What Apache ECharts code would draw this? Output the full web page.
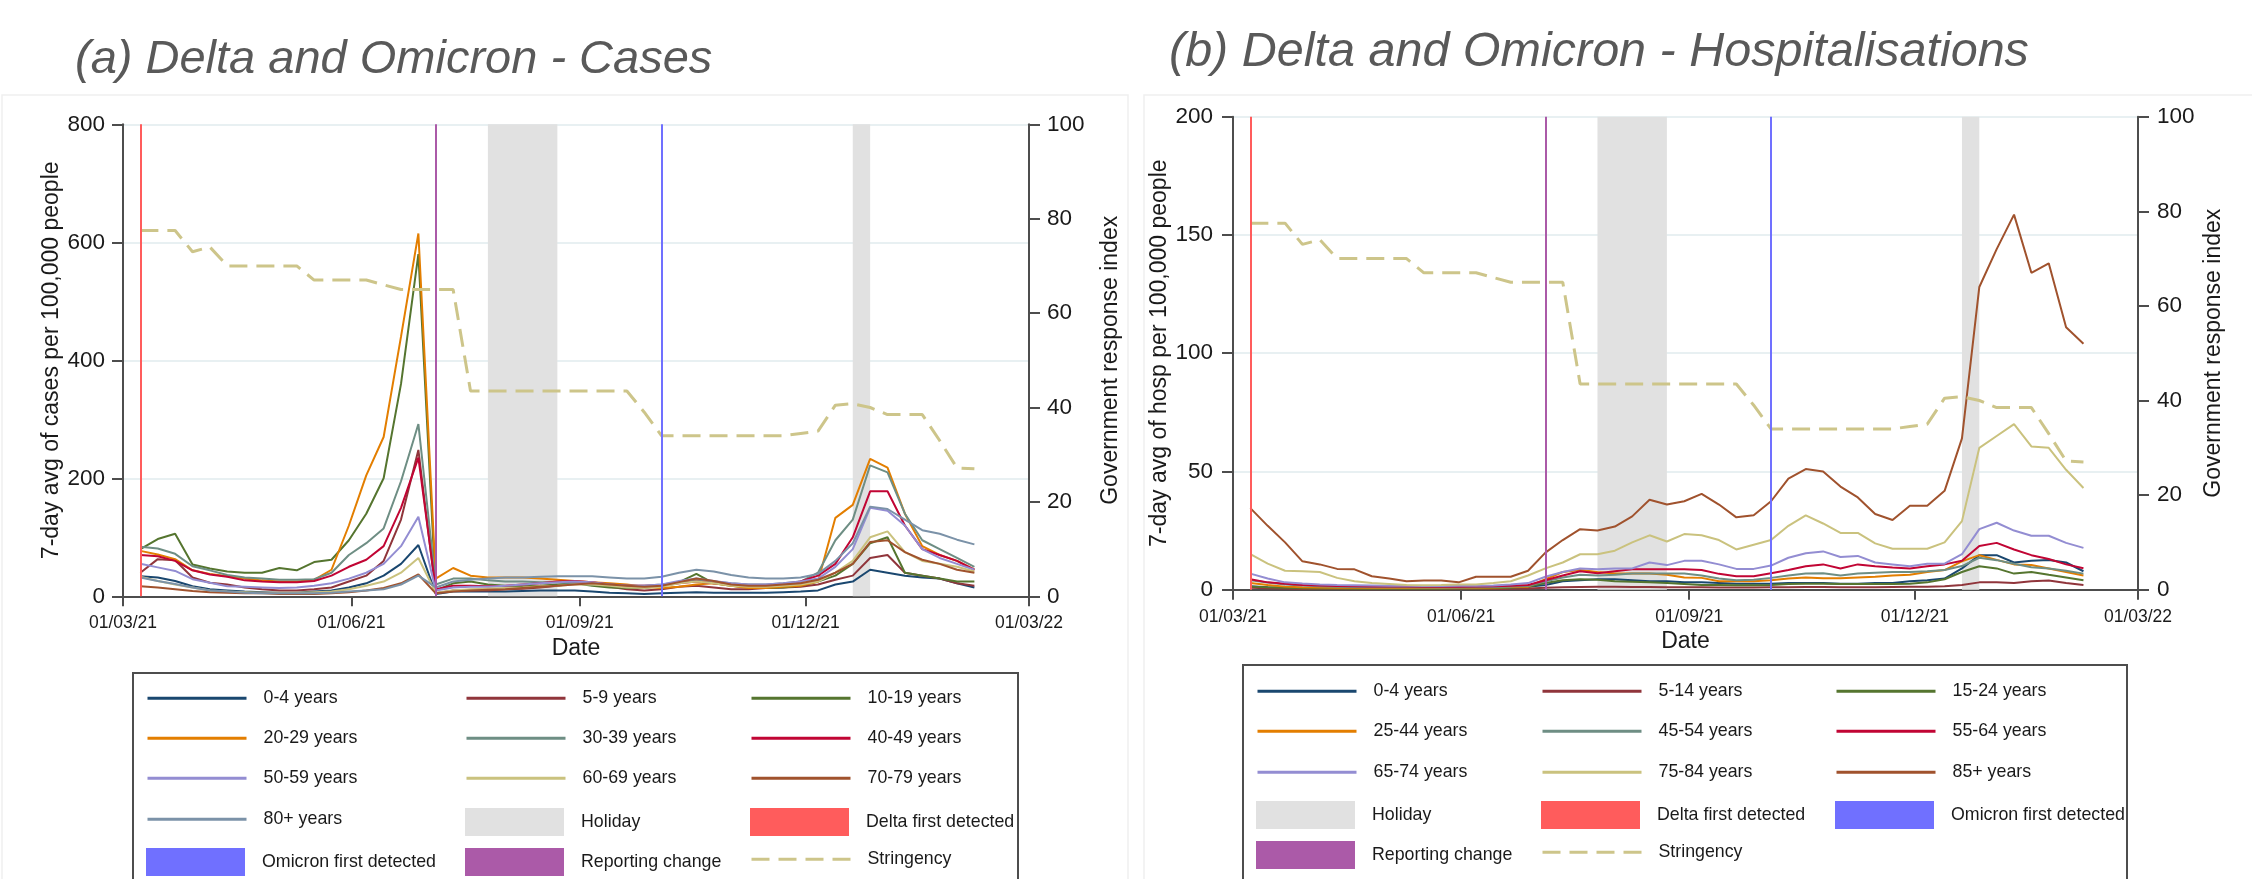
<!DOCTYPE html>
<html>
<head>
<meta charset="utf-8">
<script src="https://cdn.jsdelivr.net/npm/echarts@6/dist/echarts.min.js"></script>
<style>html,body{margin:0;padding:0;background:#fff}#c{width:2252px;height:879px}</style>
</head>
<body>
<div id="c"></div>
<script>
// ---------------- DATA ----------------
const weekDates = ['2021-03-08','2021-03-15','2021-03-22','2021-03-29','2021-04-05','2021-04-12','2021-04-19','2021-04-26',
  '2021-05-03','2021-05-10','2021-05-17','2021-05-24','2021-05-31','2021-06-07','2021-06-14','2021-06-21','2021-06-28',
  '2021-07-05','2021-07-12','2021-07-19','2021-07-26','2021-08-02','2021-08-09','2021-08-16','2021-08-23','2021-08-30',
  '2021-09-06','2021-09-13','2021-09-20','2021-09-27','2021-10-04','2021-10-11','2021-10-18','2021-10-25','2021-11-01',
  '2021-11-08','2021-11-15','2021-11-22','2021-11-29','2021-12-06','2021-12-13','2021-12-20','2021-12-27','2022-01-03',
  '2022-01-10','2022-01-17','2022-01-24','2022-01-31','2022-02-07'];

const tickDates  = ['2021-03-01','2021-06-01','2021-09-01','2021-12-01','2022-03-01'];
const tickLabels = ['01/03/21','01/06/21','01/09/21','01/12/21','01/03/22'];
const casesTicks = [0, 200, 400, 600, 800];
const hospTicks = [0, 50, 100, 150, 200];
const stringencyTicks = [0, 20, 40, 60, 80, 100];

const deltaDate = '2021-03-08';
const reportingDate = '2021-07-05';
const omicronDate = '2021-10-04';
const holidayStarts = ['2021-07-26', '2021-12-20'];
const holidayEnds   = ['2021-08-23', '2021-12-27'];

const stringency = [77.5,77.5,77.5,73,74,70,70,70,70,70,67,67,67,67,66,65,65,65,65,
  43.5,43.5,43.5,43.5,43.5,43.5,43.5,43.5,43.5,43.5,39,34,34,34,34,34,34,34,34,34.5,35,
  40.5,40.8,40,38.5,38.5,38.5,33,27.2,27];

// (a) cases per 100,000
const caseGroups = ['0-4 years','5-9 years','10-19 years','20-29 years','30-39 years','40-49 years','50-59 years','60-69 years','70-79 years','80+ years'];
const cases0_4   = [34,32,26,17,12,10,8,7,6,6,8,10,15,22,35,55,87, 4,8,8,8,8,9,10,10,10,8,6,5,4,5,6,7,6,6,6,6,7,8, 10,20,25,45,40,35,32,30,22,15];
const cases5_9   = [40,63,61,32,23,20,15,12,10,10,12,15,25,35,60,130,248, 5,10,10,10,12,13,15,18,22,20,16,12,10,12,16,18,15,12,12,14,15,16, 20,28,35,65,70,40,35,30,22,18];
const cases10_19 = [80,97,106,54,47,42,40,40,48,44,58,62,95,140,200,360,580, 10,22,25,20,18,17,18,20,22,18,15,14,14,18,24,38,22,18,15,14,15,18, 25,35,55,90,100,40,35,30,25,25];
const cases20_29 = [77,71,63,44,38,34,30,27,25,25,28,45,120,205,270,440,615, 30,48,35,32,32,32,30,28,26,24,22,20,16,14,16,20,22,18,14,14,16,18, 25,133,155,233,218,140,85,70,60,45];
const cases30_39 = [84,81,72,51,44,36,32,30,28,28,29,40,70,90,115,195,292, 20,30,30,27,25,25,24,24,22,20,20,18,18,20,24,28,25,22,20,20,22,25, 40,95,130,222,210,140,95,80,65,50];
const cases40_49 = [70,68,60,44,37,33,27,25,24,24,26,35,50,62,85,150,235, 12,18,18,17,18,20,22,25,26,24,20,18,18,18,22,25,22,20,18,18,20,25, 35,55,100,178,178,120,80,70,60,45];
const cases50_59 = [55,49,43,29,23,17,16,15,14,15,18,22,30,40,55,85,135, 10,15,16,16,18,20,22,24,25,24,20,18,18,20,26,30,26,22,20,20,22,25, 30,50,80,150,145,120,80,65,55,45];
const cases60_69 = [33,26,20,15,10,8,7,6,6,6,7,8,12,18,25,40,65, 6,10,12,13,14,15,17,18,20,20,18,15,14,16,22,25,22,18,16,16,18,20, 25,40,60,100,110,75,60,55,50,42];
const cases70_79 = [17,15,12,9,7,6,5,5,4,4,4,5,7,10,14,22,37, 5,8,10,11,12,14,16,18,20,22,20,18,16,18,24,30,26,20,18,18,20,22, 28,40,55,92,95,75,62,55,45,40];
const cases80p   = [32,26,21,15,10,8,6,5,5,5,5,6,8,10,12,20,35, 15,25,28,30,32,32,33,34,34,34,32,30,30,33,40,45,42,36,32,30,30,32, 38,60,90,152,148,130,112,106,96,88];

// (b) hospitalisations per 100,000
const hospGroups = ['0-4 years','5-14 years','15-24 years','25-44 years','45-54 years','55-64 years','65-74 years','75-84 years','85+ years'];
const hosp0_4   = [1.5,1,0.8, 0.6,0.5,0.5,0.4,0.4,0.4,0.4,0.4,0.4,0.5,0.5,0.6,0.8,1.2, 2,3.6,4,4.4,4.4,4,3.6,3.6,3.1,3.1,2.8,2.5,2.5,2.5,2.8,2.8,2.8,2.5,2.5,2.8,2.8,3.6, 4,4.7,9,14.6,14.6,11.5,12.2,12.6,11.5,7.8];
const hosp5_14  = [0.8,0.6,0.5, 0.3,0.3,0.3,0.2,0.2,0.2,0.2,0.2,0.2,0.3,0.3,0.3,0.4,0.5, 0.8,1,1.1,1.2,1.2,1.1,1.1,1,1,1,0.9,0.9,0.9,1,1,1.1,1.1,1,1,1,1.1,1.2, 1.3,1.5,2,3.1,3.1,2.8,3.6,3.9,2.8,2];
const hosp15_24 = [1.3,1,0.8, 0.6,0.5,0.5,0.4,0.4,0.4,0.4,0.4,0.4,0.5,0.5,0.6,0.8,1.2, 2.8,4,4.4,4.2,3.6,3.4,3.1,2.8,2.4,2,2,1.9,1.9,2,2.4,2.5,2.5,2.4,2.4,2.4,2.4,2.5, 3.1,4.4,7.5,9.9,9,6.8,7.5,6.3,5.2,4];
const hosp25_44 = [2.8,2,1.3, 1,0.9,0.8,0.8,0.7,0.7,0.7,0.7,0.7,0.8,0.8,0.9,1.1,1.3, 4.4,7.5,8.3,7.5,6.8,6.8,6.8,6.3,5.2,5,3.6,3.6,3.6,4,4.7,5.2,4.8,4.8,5.2,5.5,6,6.3, 7.5,8.3,12,14.6,12.6,10.7,10.4,9,7.5,6];
const hosp45_54 = [4,3,2.2, 1.8,1.5,1.2,1.1,1,1,1,0.9,0.9,0.9,1,1.1,1.3,1.6, 3.6,5.2,6.3,6,6.3,6.8,6.8,6.8,6.8,6,4.7,4,4.2,5,6,6.8,7,6,6.8,7.2,7.5,7.5, 7.8,8.3,10,13.5,12.5,11,9.5,9,8,6.8];
const hosp55_64 = [4.4,3.1,2.5, 2,1.8,1.6,1.5,1.4,1.4,1.4,1.3,1.3,1.3,1.4,1.5,1.7,2, 4,6,7.8,7,7.8,8.6,8.6,8.6,8.6,8.3,6.7,5.7,5.7,7,8.3,9.9,10.7,9,10.7,9.9,9.4,9, 9.9,10.7,12.2,18.5,19.8,17,14.6,13,10.7,9.1];
const hosp65_74 = [6.8,4.7,3.1, 2.6,2.2,2,1.9,1.8,1.7,1.7,1.6,1.6,1.7,1.7,1.8,2.2,2.8, 5.5,7.5,9,8.6,9,9,11.5,10.4,12.2,12.2,10.7,8.8,8.8,10.2,13.5,15.4,16.2,13.8,14.3,11.5,10.7,9.9, 11,11,15,25.6,28.3,25,22.8,22.8,19.8,17.7];
const hosp75_84 = [15,11,8,7.8,7.5,5,3.6,2.8,2.4,2,1.9,2,2.2,2.2,2.8,3.6,6, 9,11.5,15,15,16.5,20,23,20.4,23.5,23,21,17,19,21,27,31.4,28,24,24,19.6,17.3,17.3, 17.3,20,29,60,65,70,60.6,60,50.7,43];
const hosp85p   = [34.5,27,20,12,10.7,8.8,8.6,5.7,4.7,3.6,3.9,3.9,3.1,5.5,5.5,5.5,8, 15.7,21,25.6,25,26.7,31,38,36,37.4,40.5,36,30.6,31.5,37.4,47,51,50,43.6,39,32,29.5,35.5, 35.5,41.8,64,128,144,158.6,134,138,111,104];

// legend layout (row-major, 3 columns)
const legendA = ['0-4 years','5-9 years','10-19 years','20-29 years','30-39 years','40-49 years','50-59 years','60-69 years','70-79 years',
  '80+ years','Holiday','Delta first detected','Omicron first detected','Reporting change','Stringency'];
const legendB = ['0-4 years','5-14 years','15-24 years','25-44 years','45-54 years','55-64 years','65-74 years','75-84 years','85+ years',
  'Holiday','Delta first detected','Omicron first detected','Reporting change','Stringency'];

// ---------------- STYLE ----------------
const FONT = "'Liberation Sans', Arial, Helvetica, sans-serif";
const INK = '#1a1a1a';
const AXIS = '#4d4d4d';
const palette = ['#1a476f','#90353b','#55752f','#e37e00','#6e8e84','#c10534','#938dd2','#cac27e','#a0522d','#7b92a8'];
const STRING_COLOR = '#cdc58a';
const HOLIDAY_COLOR = '#e1e1e1';
const DELTA_COLOR = '#ff5c5c';
const OMICRON_COLOR = '#7070ff';
const REPORT_COLOR = '#ab5aa8';
const legendColsA = [146, 465, 750], legendRowsA = [701, 741, 781, 822, 862];
const legendColsB = [1256, 1541, 1835], legendRowsB = [694, 734, 775, 815, 855];

function toDay(s) {
  const p = s.split('-').map(Number);
  return (Date.UTC(p[0], p[1] - 1, p[2]) - Date.UTC(2021, 2, 1)) / 86400000;
}
const tickDays = tickDates.map(toDay);
function pairs(vals) { return weekDates.map((d, i) => [toDay(d), vals[i]]); }

function xAxisFor(gi) {
  return {
    gridIndex: gi, type: 'value', min: tickDays[0], max: tickDays[tickDays.length - 1],
    name: 'Date', nameLocation: 'middle', nameGap: 35,
    nameTextStyle: { fontSize: 23, color: INK, fontFamily: FONT },
    axisLine: { show: true, onZero: false, lineStyle: { color: AXIS, width: 2 } },
    axisTick: { show: true, length: 10, customValues: tickDays, lineStyle: { color: AXIS, width: 2 } },
    axisLabel: { show: true, customValues: tickDays, margin: 18, fontSize: 17.5, color: INK, fontFamily: FONT,
      formatter: v => { const i = tickDays.indexOf(v); return i >= 0 ? tickLabels[i] : ''; } },
    splitLine: { show: false }
  };
}
function yAxisFor(gi, pos, ticks, name, gap, grid, margin) {
  return {
    gridIndex: gi, type: 'value', position: pos, min: ticks[0], max: ticks[ticks.length - 1],
    interval: ticks[1] - ticks[0],
    name: name, nameLocation: 'middle', nameGap: gap,
    nameTextStyle: { fontSize: 23, color: INK, fontFamily: FONT },
    axisLine: { show: true, onZero: false, lineStyle: { color: AXIS, width: 2 } },
    axisTick: { show: true, length: 11, lineStyle: { color: AXIS, width: 2 } },
    axisLabel: { show: true, margin: margin, fontSize: 22.5, color: INK, fontFamily: FONT },
    splitLine: { show: grid, lineStyle: { color: '#e8f0f2', width: 2 } }
  };
}

const series = [];
function addMarkers(xi, yi) {
  series.push({
    name: 'Holiday', type: 'scatter', xAxisIndex: xi, yAxisIndex: yi, data: [], z: 1,
    itemStyle: { color: HOLIDAY_COLOR, opacity: 1 },
    markArea: { silent: true, itemStyle: { color: HOLIDAY_COLOR, opacity: 1 },
      data: holidayStarts.map((s, i) => [{ xAxis: toDay(s) }, { xAxis: toDay(holidayEnds[i]) }]) }
  });
  [['Delta first detected', DELTA_COLOR, deltaDate],
   ['Omicron first detected', OMICRON_COLOR, omicronDate],
   ['Reporting change', REPORT_COLOR, reportingDate]].forEach(m => {
    series.push({
      name: m[0], type: 'scatter', xAxisIndex: xi, yAxisIndex: yi, data: [], z: 1,
      itemStyle: { color: m[1], opacity: 1 },
      markLine: { silent: true, symbol: 'none', label: { show: false },
        lineStyle: { color: m[1], width: 2, type: 'solid', opacity: 1 },
        data: [{ xAxis: toDay(m[2]) }] }
    });
  });
}
function addLine(name, vals, color, xi, yi) {
  series.push({
    name: name, type: 'line', xAxisIndex: xi, yAxisIndex: yi, data: pairs(vals),
    symbol: 'none', showSymbol: false, color: color, z: 2,
    itemStyle: { color: color, opacity: 0 },
    lineStyle: { color: color, width: 2 }
  });
}
function addStringency(xi, yi) {
  series.push({
    name: 'Stringency', type: 'line', xAxisIndex: xi, yAxisIndex: yi, data: pairs(stringency),
    symbol: 'none', showSymbol: false, color: STRING_COLOR, z: 3,
    itemStyle: { color: STRING_COLOR, opacity: 0 },
    lineStyle: { color: STRING_COLOR, width: 3, type: [18, 9] }
  });
}

// chart (a)
addMarkers(0, 0);
[cases0_4, cases5_9, cases10_19, cases20_29, cases30_39, cases40_49, cases50_59, cases60_69, cases70_79, cases80p]
  .forEach((v, i) => addLine(caseGroups[i], v, palette[i], 0, 0));
addStringency(0, 1);
// chart (b)
addMarkers(1, 2);
[hosp0_4, hosp5_14, hosp15_24, hosp25_44, hosp45_54, hosp55_64, hosp65_74, hosp75_84, hosp85p]
  .forEach((v, i) => addLine(hospGroups[i], v, palette[i], 1, 2));
addStringency(1, 3);

const swatchNames = ['Holiday', 'Delta first detected', 'Omicron first detected', 'Reporting change'];
function legendItems(names, cols, rows) {
  return names.map((n, i) => ({
    orient: 'vertical', left: cols[i % 3], top: rows[Math.floor(i / 3)] - 14, padding: 0, itemGap: 0,
    itemWidth: 99, itemHeight: 28, selectedMode: false,
    lineStyle: { width: 3 },
    textStyle: { fontSize: 17.8, color: INK, fontFamily: FONT, padding: [0, 0, 0, 12] },
    data: [swatchNames.indexOf(n) >= 0 ? { name: n, icon: 'rect', itemStyle: { opacity: 1 } } : n]
  }));
}

const option = {
  animation: false,
  backgroundColor: '#ffffff',
  textStyle: { fontFamily: FONT },
  title: [
    { text: '(a) Delta and Omicron - Cases', left: 70, top: 31,
      textStyle: { fontFamily: FONT, fontStyle: 'italic', fontWeight: 'normal', fontSize: 47, color: '#595959' } },
    { text: '(b) Delta and Omicron - Hospitalisations', left: 1164, top: 24,
      textStyle: { fontFamily: FONT, fontStyle: 'italic', fontWeight: 'normal', fontSize: 48.5, color: '#595959' } }
  ],
  grid: [
    { left: 123, top: 124.3, width: 906, height: 472, containLabel: false, outerBoundsMode: 'none' },
    { left: 1233, top: 116.7, width: 905, height: 473, containLabel: false, outerBoundsMode: 'none' }
  ],
  xAxis: [xAxisFor(0), xAxisFor(1)],
  yAxis: [
    yAxisFor(0, 'left', casesTicks, '7-day avg of cases per 100,000 people', 60, true, 18),
    yAxisFor(0, 'right', stringencyTicks, 'Government response index', 70, false, 18),
    yAxisFor(1, 'left', hospTicks, '7-day avg of hosp per 100,000 people', 59, true, 20),
    yAxisFor(1, 'right', stringencyTicks, 'Government response index', 64, false, 19)
  ],
  legend: legendItems(legendA, legendColsA, legendRowsA).concat(legendItems(legendB, legendColsB, legendRowsB)),
  graphic: [
    { type: 'rect', shape: { x: 2, y: 95, width: 1126, height: 900 },
      style: { fill: 'none', stroke: '#f0f0f0', lineWidth: 1.5 }, silent: true, z: -10 },
    { type: 'rect', shape: { x: 1144, y: 95, width: 1200, height: 900 },
      style: { fill: 'none', stroke: '#f0f0f0', lineWidth: 1.5 }, silent: true, z: -10 },
    { type: 'rect', shape: { x: 133, y: 673, width: 885, height: 260 },
      style: { fill: 'none', stroke: AXIS, lineWidth: 2 }, silent: true },
    { type: 'rect', shape: { x: 1243, y: 665, width: 884, height: 260 },
      style: { fill: 'none', stroke: AXIS, lineWidth: 2 }, silent: true }
  ],
  series: series
};

const chart = echarts.init(document.getElementById('c'), null, { renderer: 'canvas', width: 2252, height: 879 });
chart.setOption(option);
</script>
</body>
</html>
